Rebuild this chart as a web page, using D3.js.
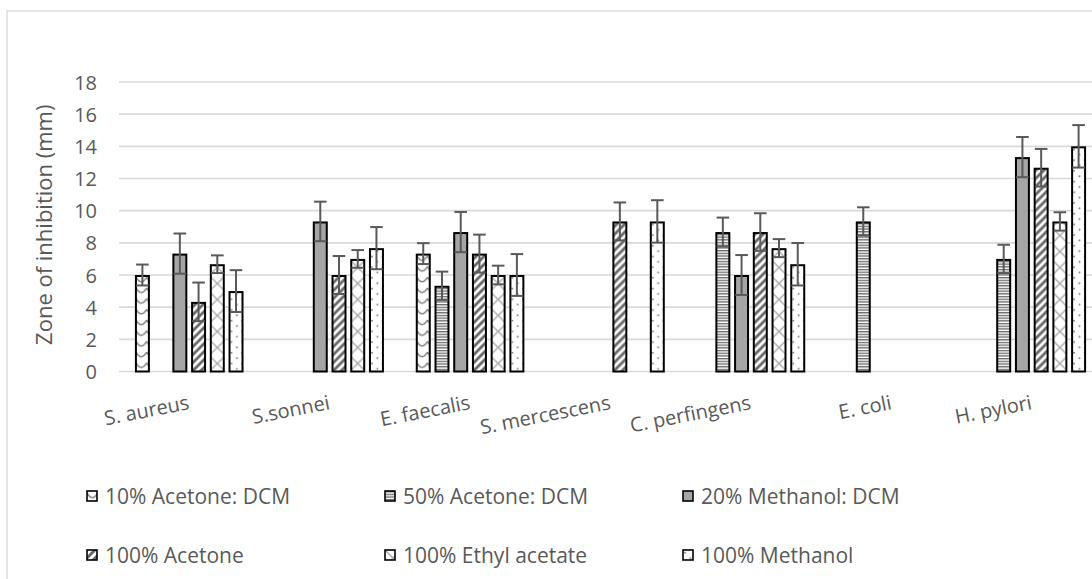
<!DOCTYPE html>
<html>
<head>
<meta charset="utf-8">
<script src="https://cdn.jsdelivr.net/npm/d3@7"></script>
<style>
  html, body { margin: 0; padding: 0; background: #fff; }
  svg { display: block; font-family: "Open Sans", sans-serif; }
</style>
</head>
<body>
<svg id="chart" width="1092" height="579"></svg>
<script>
// Bacteria tested
const categories = ["S. aureus", "S.sonnei", "E. faecalis", "S. mercescens", "C. perfingens", "E. coli", "H. pylori"];

// Extraction solvents (series)
const seriesNames = ["10% Acetone: DCM", "50% Acetone: DCM", "20% Methanol: DCM",
                     "100% Acetone", "100% Ethyl acetate", "100% Methanol"];

// Mean zone of inhibition (mm); null = no inhibition recorded
const acetone10DCM   = [6.00, null, 7.33, null, null, null, null];
const acetone50DCM   = [null, null, 5.33, null, 8.67, 9.33, 7.00];
const methanol20DCM  = [7.33, 9.33, 8.67, null, 6.00, null, 13.33];
const acetone100     = [4.33, 6.00, 7.33, 9.33, 8.67, null, 12.67];
const ethylAcetate   = [6.67, 7.00, 6.00, null, 7.67, null, 9.33];
const methanol100    = [5.00, 7.67, 6.00, 9.33, 6.67, null, 14.00];

// Error bar half-lengths (mm)
const acetone10DCMErr  = [0.65, null, 0.65, null, null, null, null];
const acetone50DCMErr  = [null, null, 0.88, null, 0.90, 0.88, 0.88];
const methanol20DCMErr = [1.25, 1.23, 1.25, null, 1.24, null, 1.25];
const acetone100Err    = [1.20, 1.18, 1.18, 1.18, 1.17, null, 1.17];
const ethylAcetateErr  = [0.55, 0.55, 0.58, null, 0.56, null, 0.57];
const methanol100Err   = [1.30, 1.31, 1.30, 1.32, 1.32, null, 1.32];

const yTicks = [0, 2, 4, 6, 8, 10, 12, 14, 16, 18];
const yTitle = "Zone of inhibition (mm)";

const seriesValues = [acetone10DCM, acetone50DCM, methanol20DCM, acetone100, ethylAcetate, methanol100];
const seriesErrors = [acetone10DCMErr, acetone50DCMErr, methanol20DCMErr, acetone100Err, ethylAcetateErr, methanol100Err];

const textColor = "#595959";
const gridColor = "#d9d9d9";

const svg = d3.select("#chart");

// Chart frame
svg.append("rect")
  .attr("x", 7).attr("y", 11)
  .attr("width", 1110).attr("height", 600)
  .attr("fill", "#fff")
  .attr("stroke", gridColor).attr("stroke-width", 1.3);

const plot = { left: 119, right: 1102, top: 82, bottom: 371.5 };

const x0 = d3.scaleBand().domain(categories).range([plot.left, plot.right]).padding(0);
const x1 = d3.scaleBand().domain(d3.range(seriesNames.length))
  .range([0, x0.bandwidth()]).paddingInner(0.2).paddingOuter(0.85);
const y = d3.scaleLinear().domain([0, 18]).range([plot.bottom, plot.top]);

const defs = svg.append("defs");

// Pattern fills, one builder per series
function buildPattern(id, s, ox, oy) {
  if (s === 2) return null;
  const p = defs.append("pattern").attr("id", id).attr("patternUnits", "userSpaceOnUse");
  if (s === 0) { // wave
    p.attr("x", ox).attr("y", oy).attr("width", 10.7).attr("height", 10.7);
    p.append("rect").attr("width", 10.7).attr("height", 10.7).attr("fill", "#fff");
    p.append("path").attr("d", "M0,2 Q5.35,11 10.7,2")
      .attr("fill", "none").attr("stroke", "#808080").attr("stroke-width", 1.5);
  } else if (s === 1) { // narrow horizontal
    p.attr("x", ox).attr("y", oy).attr("width", 10).attr("height", 2.7);
    p.append("rect").attr("width", 10).attr("height", 2.7).attr("fill", "#fff");
    p.append("rect").attr("width", 10).attr("height", 1.35).attr("fill", "#6b6b6b");
  } else if (s === 3) { // wide upward diagonal
    p.attr("x", ox).attr("y", oy).attr("width", 8).attr("height", 8);
    p.append("rect").attr("width", 8).attr("height", 8).attr("fill", "#fff");
    p.append("path").attr("d", "M-2,2 L2,-2 M0,8 L8,0 M6,10 L10,6")
      .attr("stroke", "#666").attr("stroke-width", 2.8).attr("stroke-linecap", "square");
  } else if (s === 4) { // outlined diamonds
    const t = 16;
    p.attr("x", ox).attr("y", oy).attr("width", t).attr("height", t);
    p.append("rect").attr("width", t).attr("height", t).attr("fill", "#fff");
    p.append("path").attr("d", `M0,0 L${t},${t} M${t},0 L0,${t}`)
      .attr("stroke", "#a6a6a6").attr("stroke-width", 1.3);
  } else if (s === 5) { // sparse dots
    p.attr("x", ox).attr("y", oy).attr("width", 10.7).attr("height", 10.7);
    p.append("rect").attr("width", 10.7).attr("height", 10.7).attr("fill", "#fff");
    p.append("circle").attr("cx", 2).attr("cy", 2.7).attr("r", 1).attr("fill", "#7f7f7f");
    p.append("circle").attr("cx", 7.35).attr("cy", 8).attr("r", 1).attr("fill", "#7f7f7f");
  }
  return id;
}
const solidFill = "#a5a5a5";

// Gridlines
svg.append("g").selectAll("line").data(yTicks).join("line")
  .attr("x1", plot.left).attr("x2", 1100)
  .attr("y1", d => y(d)).attr("y2", d => y(d))
  .attr("stroke", gridColor).attr("stroke-width", 1.6);

// Y tick labels
svg.append("g").selectAll("text").data(yTicks).join("text")
  .attr("x", 97).attr("y", d => y(d))
  .attr("text-anchor", "end").attr("dominant-baseline", "central")
  .attr("font-size", 20).attr("fill", textColor)
  .text(d => d);

// Y axis title
svg.append("text")
  .attr("transform", `translate(43,${(plot.top + plot.bottom) / 2 - 2}) rotate(-90)`)
  .attr("text-anchor", "middle").attr("dominant-baseline", "central")
  .attr("font-size", 22).attr("fill", textColor)
  .text(yTitle);

// Bars
const barData = [];
categories.forEach((c, ci) => {
  seriesValues.forEach((vals, si) => {
    const v = vals[ci];
    if (v == null) return;
    barData.push({ c, ci, si, v, e: seriesErrors[si][ci] });
  });
});

const bw = x1.bandwidth();
const bars = svg.append("g");
barData.forEach(d => {
  const bx = x0(d.c) + x1(d.si) + 1;
  const top = y(d.v) + 1;
  const id = `fill-${d.ci}-${d.si}`;
  const cx = bx + (bw - 2) / 2;
  const ox = d.si === 4 ? cx - 8 : bx;
  const pid = buildPattern(id, d.si, ox, y(0));
  bars.append("rect")
    .attr("x", bx).attr("y", top)
    .attr("width", bw - 2).attr("height", y(0) - top)
    .attr("fill", pid ? `url(#${pid})` : solidFill)
    .attr("stroke", "#000").attr("stroke-width", 2);
});

// Error bars
const errG = svg.append("g").attr("stroke", "#595959").attr("stroke-width", 2);
barData.forEach(d => {
  if (d.e == null) return;
  const cx = x0(d.c) + x1(d.si) + bw / 2;
  const yHi = y(d.v + d.e), yLo = y(d.v - d.e);
  const hw = 6.3;
  errG.append("line").attr("x1", cx).attr("x2", cx).attr("y1", yHi).attr("y2", yLo);
  errG.append("line").attr("x1", cx - hw).attr("x2", cx + hw).attr("y1", yHi).attr("y2", yHi);
  errG.append("line").attr("x1", cx - hw).attr("x2", cx + hw).attr("y1", yLo).attr("y2", yLo);
});

// Category labels (rotated)
svg.append("g").selectAll("text").data(categories).join("text")
  .attr("transform", d => `translate(${x0(d) + x0.bandwidth() / 2 + 1},409) rotate(-11)`)
  .attr("text-anchor", "end")
  .attr("font-size", 20).attr("fill", textColor)
  .text(d => d);

// Legend: two rows of three
const legend = svg.append("g");
seriesNames.forEach((name, i) => {
  const col = i % 3, row = Math.floor(i / 3);
  const sx = 87 + col * 298;
  const cy = row === 0 ? 496 : 555;
  const id = `legend-fill-${i}`;
  const pid = buildPattern(id, i, sx, cy - 5);
  legend.append("rect")
    .attr("x", sx).attr("y", cy - 5).attr("width", 10).attr("height", 10)
    .attr("fill", pid ? `url(#${pid})` : solidFill)
    .attr("stroke", "#000").attr("stroke-width", 1.6);
  legend.append("text")
    .attr("x", sx + 18).attr("y", cy)
    .attr("dominant-baseline", "central")
    .attr("font-size", 21).attr("fill", textColor)
    .text(name);
});
</script>
</body>
</html>
